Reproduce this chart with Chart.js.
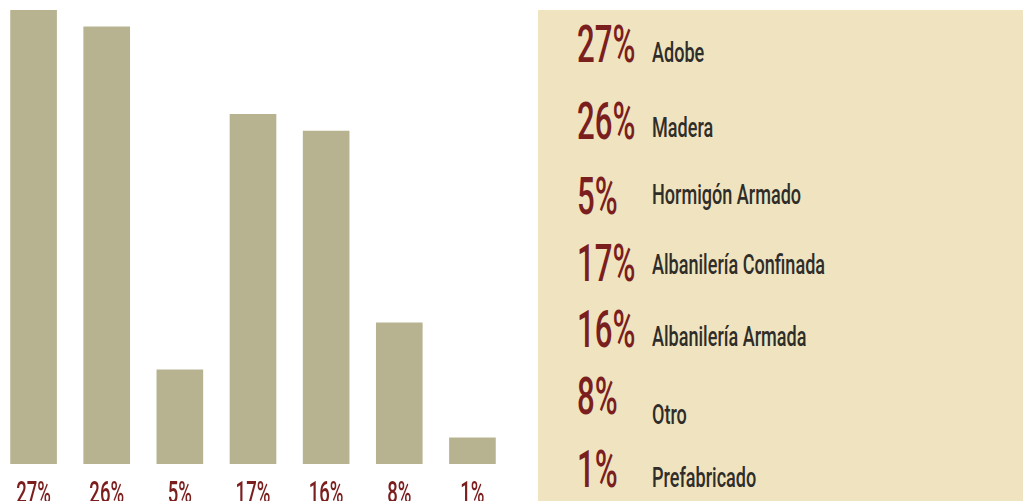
<!DOCTYPE html>
<html>
<head>
<meta charset="utf-8">
<script src="https://cdn.jsdelivr.net/npm/chart.js@4/dist/chart.umd.min.js"></script>
<style>
  html, body { margin:0; padding:0; background:#ffffff; width:1023px; height:501px; overflow:hidden; position:relative; }
  #wrap { position:absolute; left:-3px; top:0; width:512px; height:501px; }
  #panel { position:absolute; left:538px; top:10px; width:485px; height:491px; background:#F0E4C0; }
  .pct, .lbl { position:absolute; white-space:nowrap; line-height:1; transform-origin:0 0; font-family:Roboto, "Liberation Sans", sans-serif; font-weight:500; }
  .pct { color:#7B1E1E; font-size:52px; transform:scaleX(0.6); }
  .lbl { color:#2F2D29; font-size:28px; transform:scaleX(0.645); }
</style>
</head>
<body>
<div id="wrap"><canvas id="c" width="512" height="501"></canvas></div>
<div id="legend"></div>
<script>
// ---- data ----
const categories = ["Adobe", "Madera", "Hormigón Armado", "Albanilería Confinada", "Albanilería Armada", "Otro", "Prefabricado"];
const percentLabels = ["27%", "26%", "5%", "17%", "16%", "8%", "1%"];
const barHeights = [27, 26, 5.6, 20.8, 19.8, 8.4, 1.55];

// ---- layout (positions only) ----
const pctBaselines = [63, 140, 215, 282, 348, 415, 488];
const lblBaselines = [63, 138, 205, 275, 347, 425, 488];

const legend = document.getElementById('legend');
const panel = document.createElement('div');
panel.id = 'panel';
legend.appendChild(panel);
categories.forEach((name, i) => {
  const p = document.createElement('div');
  p.className = 'pct';
  p.textContent = percentLabels[i];
  p.style.left = '577px';
  p.style.top = (pctBaselines[i] - 0.842 * 52) + 'px';
  legend.appendChild(p);
  const l = document.createElement('div');
  l.className = 'lbl';
  l.textContent = name;
  l.style.left = '652px';
  l.style.top = (lblBaselines[i] - 0.842 * 28) + 'px';
  legend.appendChild(l);
});

const condensedTicks = {
  id: 'condensedTicks',
  afterDraw(chart) {
    const ctx = chart.ctx;
    const xs = chart.scales.x;
    ctx.save();
    ctx.fillStyle = '#7B1E1E';
    ctx.font = '500 32px Roboto, "Liberation Sans", sans-serif';
    ctx.textAlign = 'center';
    ctx.textBaseline = 'alphabetic';
    chart.data.labels.forEach((lab, i) => {
      const x = xs.getPixelForTick(i);
      ctx.save();
      ctx.translate(x, 503);
      ctx.scale(0.58, 1);
      ctx.fillText(lab, 0, 0);
      ctx.restore();
    });
    ctx.restore();
  }
};

new Chart(document.getElementById('c'), {
  type: 'bar',
  data: {
    labels: percentLabels,
    datasets: [{
      data: barHeights,
      backgroundColor: '#B7B391',
      borderWidth: 0,
      barThickness: 46
    }]
  },
  options: {
    responsive: false,
    animation: false,
    layout: { padding: { top: 10, bottom: 37, left: 0, right: 0 } },
    plugins: { legend: { display: false }, tooltip: { enabled: false } },
    scales: {
      x: { display: false, grid: { display: false } },
      y: { display: false, min: 0, max: 27, grid: { display: false } }
    }
  },
  plugins: [condensedTicks]
});
</script>
</body>
</html>
